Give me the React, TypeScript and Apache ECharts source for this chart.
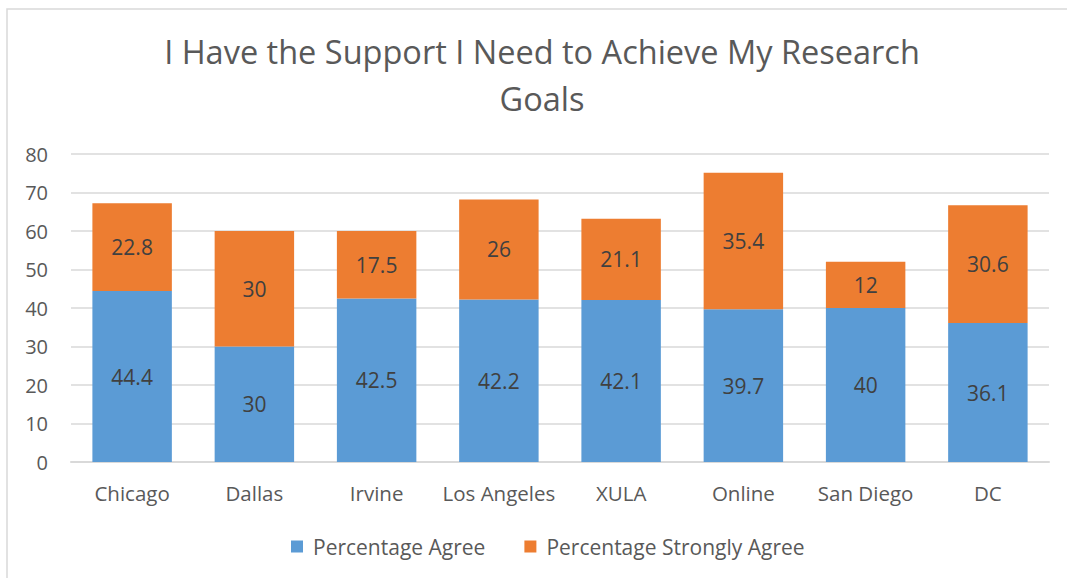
import React, { useEffect, useRef } from "react";
import * as echarts from "echarts";

const categories = ["Chicago", "Dallas", "Irvine", "Los Angeles", "XULA", "Online", "San Diego", "DC"];
const agree = [44.4, 30, 42.5, 42.2, 42.1, 39.7, 40, 36.1];
const stronglyAgree = [22.8, 30, 17.5, 26, 21.1, 35.4, 12, 30.6];
const seriesNames = ["Percentage Agree", "Percentage Strongly Agree"];
const titleText = "I Have the Support I Need to Achieve My Research\nGoals";

const FONT = "'Open Sans', 'Noto Sans', sans-serif";

export default function App() {
  const ref = useRef<HTMLDivElement>(null);
  useEffect(() => {
    if (!ref.current) return;
    const chart = echarts.init(ref.current, undefined, { renderer: "svg" });
    const labelStyle = {
      show: true,
      position: "inside" as const,
      color: "#404040",
      fontSize: 21,
      fontFamily: FONT,
    };
    chart.setOption({
      animation: false,
      backgroundColor: "#ffffff",
      graphic: [
        {
          type: "rect",
          shape: { x: 7, y: 9, width: 1100, height: 600 },
          style: { fill: "none", stroke: "#D9D9D9", lineWidth: 1.5 },
          silent: true,
        },
      ],
      title: {
        text: titleText,
        left: 537,
        textAlign: "center",
        top: 23,
        textStyle: {
          fontFamily: FONT,
          fontSize: 32.5,
          fontWeight: "normal",
          color: "#595959",
          lineHeight: 47,
        },
      },
      legend: {
        top: 531,
        left: 286,
        itemWidth: 12,
        itemHeight: 12,
        itemGap: 39,
        icon: "rect",
        textStyle: { fontFamily: FONT, fontSize: 21, color: "#595959", padding: [0, 0, 0, 5] },
        data: seriesNames,
      },
      grid: { left: 71, right: 18, top: 154, bottom: 116, containLabel: false },
      xAxis: {
        type: "category",
        data: categories,
        axisLine: { lineStyle: { color: "#D9D9D9", width: 2 } },
        axisTick: { show: false },
        axisLabel: { interval: 0, fontFamily: FONT, fontSize: 20.5, color: "#595959", margin: 20 },
      },
      yAxis: {
        type: "value",
        min: 0,
        max: 80,
        interval: 10,
        axisLine: { show: false },
        axisTick: { show: false },
        splitLine: { lineStyle: { color: "#D9D9D9", width: 1.5 } },
        axisLabel: { fontFamily: FONT, fontSize: 20, color: "#595959", margin: 23 },
      },
      series: [
        {
          name: seriesNames[0],
          type: "bar",
          stack: "total",
          data: agree,
          barCategoryGap: "35%",
          itemStyle: { color: "#5B9BD5" },
          label: labelStyle,
        },
        {
          name: seriesNames[1],
          type: "bar",
          stack: "total",
          data: stronglyAgree,
          barCategoryGap: "35%",
          itemStyle: { color: "#ED7D31" },
          label: labelStyle,
        },
      ],
    });
    return () => chart.dispose();
  }, []);
  return (
    <div
      ref={ref}
      style={{ position: "absolute", left: 0, top: 0, width: 1067, height: 578 }}
    />
  );
}
